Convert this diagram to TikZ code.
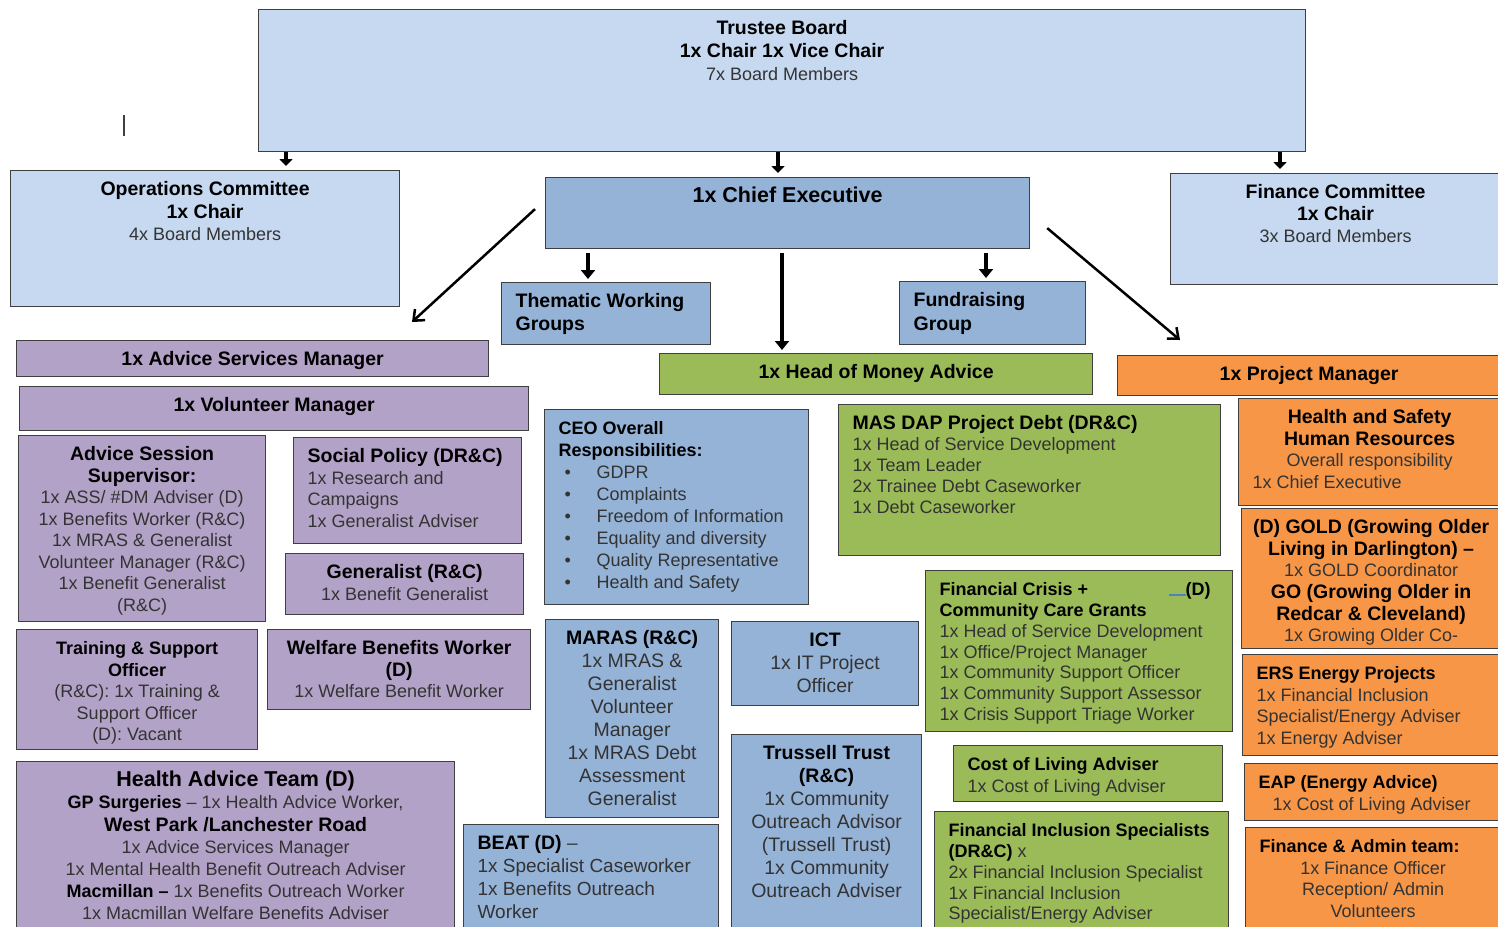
\documentclass[tikz,border=0pt]{standalone}
\usepackage{fontspec}
\setmainfont{Liberation Sans}
\usetikzlibrary{arrows.meta}

\definecolor{paleblue}{HTML}{C6D9F1}
\definecolor{midblue}{HTML}{95B3D7}
\definecolor{lilac}{HTML}{B3A2C7}
\definecolor{leaf}{HTML}{9BBB59}
\definecolor{amber}{HTML}{F79646}
\definecolor{edge}{HTML}{3F3F3F}
\definecolor{ink}{HTML}{333333}
\definecolor{markblue}{HTML}{4F81BD}

\newcommand{\hd}[1]{{\bfseries\color{black}#1}}
\newcommand{\bighd}[1]{{\fontsize{19.5}{22}\selectfont\bfseries\color{black}#1}}

\begin{document}
\begin{tikzpicture}[x=1pt, y=-1pt,
  org/.style n args={3}{draw=edge, line width=1.2pt, fill=#1, anchor=north west,
    inner xsep=14pt, inner ysep=0pt, text=ink, font=\fontsize{18}{21.5}\selectfont,
    execute at begin node={\begin{minipage}[t][#3pt][t]{\dimexpr#2pt-28pt\relax}\rule{0pt}{25pt}},
    execute at end node={\end{minipage}}},
  mid/.style={execute at begin node=\centering},
  big/.style={font=\fontsize{19.5}{23}\selectfont},
  stub/.style={line width=3.5pt, -{Triangle[length=7pt,width=13pt]}, shorten >=4pt},
  drop/.style={line width=4pt, -{Triangle[length=9pt,width=14pt]}, shorten <=4pt, shorten >=3pt},
  slant/.style={line width=2.5pt, -{Straight Barb[length=9pt,width=15pt,line width=2.5pt]}}]
\fill[white] (0,0) rectangle (1498,926);
\useasboundingbox (0,0) rectangle (1498,926);

\node[org={paleblue}{1047}{142}, mid, font=\fontsize{18}{23}\selectfont] (trustee) at (258,9)
  {\bighd{Trustee Board}\\ \bighd{1x Chair 1x Vice Chair}\\ 7x Board Members};
\node[org={paleblue}{389}{136}, mid, font=\fontsize{18}{22.5}\selectfont] (opscom) at (10,170)
  {\bighd{Operations Committee}\\ \bighd{1x Chair}\\ 4x Board Members};
\node[org={midblue}{484}{71}, mid] (chief) at (545,177)
  {{\fontsize{21.5}{24}\selectfont\bfseries\color{black}1x Chief Executive}};
\node[org={paleblue}{330}{111}, mid, font=\fontsize{18}{22}\selectfont] (fincom) at (1170,173)
  {\bighd{Finance Committee}\\ \bighd{1x Chair}\\ 3x Board Members};
\node[org={midblue}{209}{62}, font=\fontsize{18}{23}\selectfont] (thematic) at (501,282)
  {\bighd{Thematic Working\\ Groups}};
\node[org={midblue}{186}{63}, font=\fontsize{18}{24}\selectfont] (fundraising) at (899,281)
  {\bighd{Fundraising\\ Group}};

\node[org={lilac}{472}{36}, mid] (advmgr) at (16,340) {\bighd{1x Advice Services Manager}};
\node[org={lilac}{509}{44}, mid] (volmgr) at (19,386) {\bighd{1x Volunteer Manager}};
\node[org={leaf}{433}{41}, mid] (moneyhead) at (659,353) {\bighd{1x Head of Money Advice}};
\node[org={amber}{383}{40}, mid] (projmgr) at (1117,355) {\bighd{1x Project Manager}};

\node[org={lilac}{247}{186}, mid] (session) at (18,435)
  {\bighd{Advice Session\\ Supervisor:}\\ 1x ASS/ \#DM Adviser (D)\\ 1x Benefits Worker (R\&C)\\
   1x MRAS \& Generalist\\ Volunteer Manager (R\&C)\\ 1x Benefit Generalist\\ (R\&C)};
\node[org={lilac}{228}{106}] (socpol) at (293,437)
  {\bighd{Social Policy (DR\&C)}\\ 1x Research and\\ Campaigns\\ 1x Generalist Adviser};
\node[org={lilac}{238}{61}, mid] (generalist) at (285,553)
  {\bighd{Generalist (R\&C)}\\ 1x Benefit Generalist};
\node[org={lilac}{241}{120}, mid] (training) at (16,629)
  {\hd{Training \& Support\\ Officer}\\ (R\&C): 1x Training \&\\ Support Officer\\ (D): Vacant};
\node[org={lilac}{263}{80}, mid] (welfare) at (267,629)
  {\bighd{Welfare Benefits Worker\\ (D)}\\ 1x Welfare Benefit Worker};
\node[org={lilac}{438}{175}, mid, font=\fontsize{18}{22.2}\selectfont] (healthteam) at (16,761)
  {{\fontsize{21.5}{24}\selectfont\bfseries\color{black}Health Advice Team (D)}\\
   \hd{GP Surgeries} – 1x Health Advice Worker,\\ \bighd{West Park /Lanchester Road}\\
   1x Advice Services Manager\\ 1x Mental Health Benefit Outreach Adviser\\
   \hd{Macmillan –} 1x Benefits Outreach Worker\\ 1x Macmillan Welfare Benefits Adviser};

\node[org={midblue}{264}{195}, font=\fontsize{18}{22}\selectfont] (ceoduties) at (544,409)
  {\hd{CEO Overall\\ Responsibilities:}\\
   \makebox[38pt][l]{\hspace{6pt}\textbullet}GDPR\\
   \makebox[38pt][l]{\hspace{6pt}\textbullet}Complaints\\
   \makebox[38pt][l]{\hspace{6pt}\textbullet}Freedom of Information\\
   \makebox[38pt][l]{\hspace{6pt}\textbullet}Equality and diversity\\
   \makebox[38pt][l]{\hspace{6pt}\textbullet}Quality Representative\\
   \makebox[38pt][l]{\hspace{6pt}\textbullet}Health and Safety};
\node[org={midblue}{173}{198}, mid, big] (maras) at (545,619)
  {\bighd{MARAS (R\&C)}\\ 1x MRAS \&\\ Generalist\\ Volunteer\\ Manager\\ 1x MRAS Debt\\ Assessment\\ Generalist};
\node[org={midblue}{187}{84}, mid, big] (ict) at (731,621)
  {\bighd{ICT}\\ 1x IT Project\\ Officer};
\node[org={midblue}{190}{202}, mid, big] (trussell) at (731,734)
  {\bighd{Trussell Trust\\ (R\&C)}\\ 1x Community\\ Outreach Advisor\\ (Trussell Trust)\\ 1x Community\\ Outreach Adviser};
\node[org={midblue}{255}{112}, font=\fontsize{19}{23}\selectfont] (beat) at (463,824)
  {\bighd{BEAT (D)} –\\ 1x Specialist Caseworker\\ 1x Benefits Outreach\\ Worker};

\node[org={leaf}{382}{151}, font=\fontsize{18}{21}\selectfont] (masdap) at (838,404)
  {\bighd{MAS DAP Project Debt (DR\&C)}\\ 1x Head of Service Development\\ 1x Team Leader\\
   2x Trainee Debt Caseworker\\ 1x Debt Caseworker};
\node[org={leaf}{307}{161}, font=\fontsize{18}{20.8}\selectfont] (fincrisis) at (925,570)
  {\hd{Financial Crisis +}\hfill\textcolor{markblue}{\rule[0pt]{17pt}{1.6pt}}\hd{(D)}\hspace*{8pt}\\
   \hd{Community Care Grants}\\ 1x Head of Service Development\\ 1x Office/Project Manager\\
   1x Community Support Officer\\ 1x Community Support Assessor\\ 1x Crisis Support Triage Worker};
\node[org={leaf}{269}{56}] (costliving) at (953,745)
  {\hd{Cost of Living Adviser}\\ 1x Cost of Living Adviser};
\node[org={leaf}{294}{125}, font=\fontsize{18}{20.8}\selectfont] (fininclusion) at (934,811)
  {\hd{Financial Inclusion Specialists}\\ \hd{(DR\&C)} x\\ 2x Financial Inclusion Specialist\\
   1x Financial Inclusion\\ Specialist/Energy Adviser};

\node[org={amber}{262}{107}] (safety) at (1238,398)
  {\centering\bighd{Health and Safety\\ Human Resources}\\ Overall responsibility\par
   \raggedright 1x Chief Executive\par};
\node[org={amber}{275}{140}, mid, inner xsep=6pt] (gold) at (1241,508)
  {\bighd{(D) GOLD (Growing Older\\ Living in Darlington) –}\\ 1x GOLD Coordinator\\
   \bighd{GO (Growing Older in\\ Redcar \& Cleveland)}\\ 1x Growing Older Co-};
\node[org={amber}{258}{101}] (ers) at (1242,654)
  {\hd{ERS Energy Projects}\\ 1x Financial Inclusion\\ Specialist/Energy Adviser\\ 1x Energy Adviser};
\node[org={amber}{256}{57}] (eap) at (1244,763)
  {\hd{EAP (Energy Advice)}\\ \hspace*{14pt}1x Cost of Living Adviser};
\node[org={amber}{255}{110}] (finadmin) at (1245,827)
  {\hd{Finance \& Admin team:}\par\centering 1x Finance Officer\\ Reception/ Admin\\ Volunteers\par};

\draw[stub] ([xshift=28pt]trustee.south west) -- ([xshift=28pt]trustee.south west |- opscom.north);
\draw[stub] ([xshift=520pt]trustee.south west) -- ([xshift=520pt]trustee.south west |- chief.north);
\draw[stub] ([xshift=1022pt]trustee.south west) -- ([xshift=1022pt]trustee.south west |- fincom.north);
\draw[drop] ([xshift=43pt]chief.south west) -- ([xshift=43pt]chief.south west |- thematic.north);
\draw[drop] ([xshift=441pt]chief.south west) -- ([xshift=441pt]chief.south west |- fundraising.north);
\draw[drop] ([xshift=237pt]chief.south west) -- ([xshift=237pt]chief.south west |- moneyhead.north);
\draw[slant] ([shift={(-10,-4)}]chief.west) -- ([shift={(396,-18)}]advmgr.north west);
\draw[slant] ([shift={(17,15)}]chief.east) -- ([shift={(63,-15)}]projmgr.north west);

\draw[line width=1.3pt, black!75] (124,115) -- (124,136);
\end{tikzpicture}
\end{document}
